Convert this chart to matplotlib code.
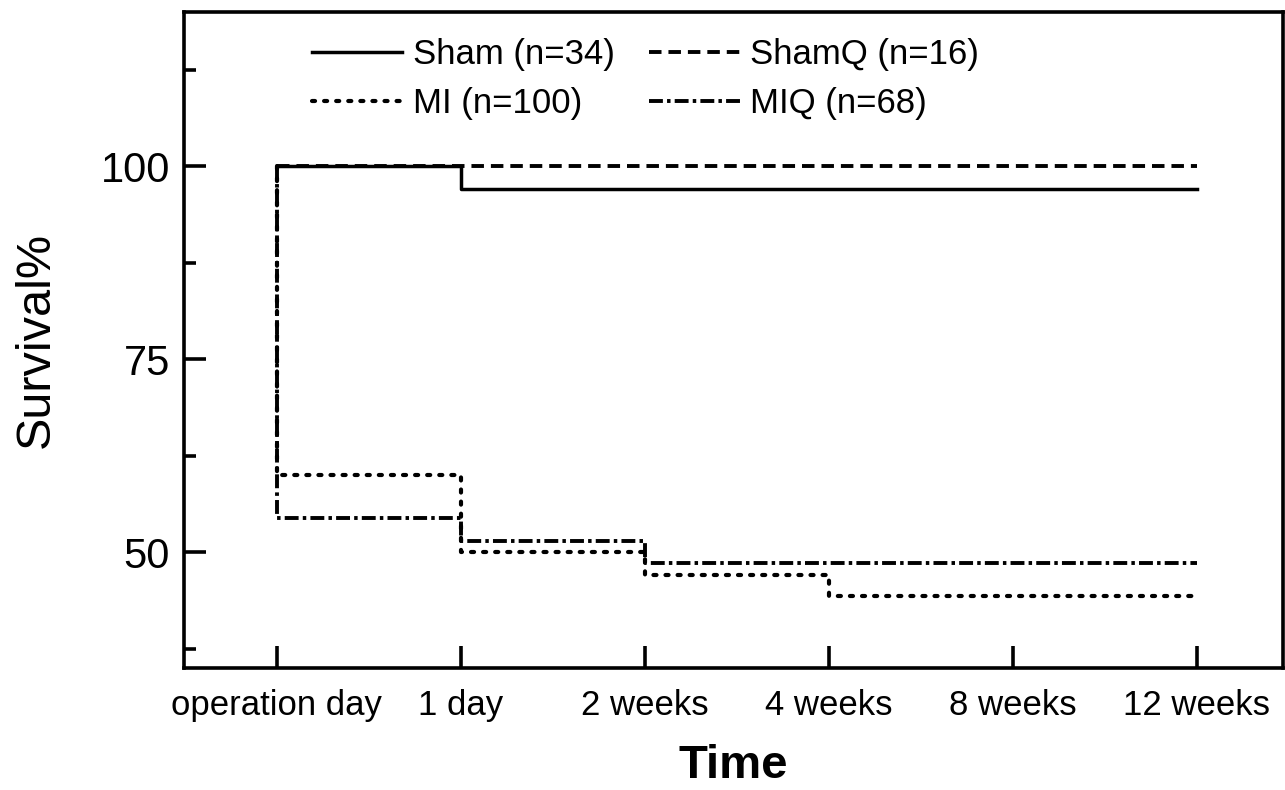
import matplotlib
matplotlib.use("Agg")
import matplotlib.pyplot as plt
from matplotlib.ticker import MultipleLocator

plt.rcParams['font.family'] = ['Liberation Sans', 'DejaVu Sans']
plt.rcParams['lines.scale_dashes'] = False

# Dados (leitura do gráfico)
tick_labels = ['operation day', '1 day', '2 weeks', '4 weeks', '8 weeks', '12 weeks']
tempo = [0, 0, 1, 2, 3, 4, 5]
sham = [100, 100, 97.1, 97.1, 97.1, 97.1, 97.1]
shamq = [100, 100, 100, 100, 100, 100, 100]
mi = [100, 60, 50, 47, 44.3, 44.3, 44.3]
miq = [100, 54.4, 51.5, 48.6, 48.6, 48.6, 48.6]

fig = plt.figure(figsize=(12.85, 7.9), dpi=100)
ax = fig.add_axes([0.1432, 0.1544, 0.8552, 0.8304])

ax.plot(tempo, sham, drawstyle='steps-post', color='black', lw=2.5,
        label='Sham (n=34)')
ax.plot(tempo, mi, drawstyle='steps-post', color='black', lw=3,
        dashes=(2.2, 6.5), dash_capstyle='round', label='MI (n=100)')
ax.plot(tempo, shamq, drawstyle='steps-post', color='black', lw=2.8,
        dashes=(9, 5), label='ShamQ (n=16)')
ax.plot(tempo, miq, drawstyle='steps-post', color='black', lw=2.8,
        dashes=(10, 3, 2.5, 3), label='MIQ (n=68)')

ax.set_xlim(-0.505, 5.47)
ax.set_ylim(35, 120)
ax.set_xticks(range(len(tick_labels)))
ax.set_xticklabels(tick_labels, fontsize=25)
ax.yaxis.set_major_locator(MultipleLocator(25))
ax.yaxis.set_minor_locator(MultipleLocator(12.5))
ax.tick_params(axis='y', which='major', labelsize=30, pad=10)
ax.tick_params(axis='x', which='major', pad=15)
ax.tick_params(which='major', direction='in', length=16, width=2.6)
ax.tick_params(which='minor', direction='in', length=8.5, width=2.6)
for s in ax.spines.values():
    s.set_linewidth(2.6)

ax.set_ylabel('Survival%', fontsize=35, labelpad=30)
ax.set_xlabel('Time', fontsize=34, fontweight='bold', labelpad=16)

ax.legend(ncol=2, loc='upper left', bbox_to_anchor=(0.1165, 0.96),
          frameon=False, fontsize=25, handlelength=2.6, handletextpad=0.3,
          columnspacing=1.0, labelspacing=0.45, borderpad=0, borderaxespad=0)

plt.savefig('out.png', dpi=100)
